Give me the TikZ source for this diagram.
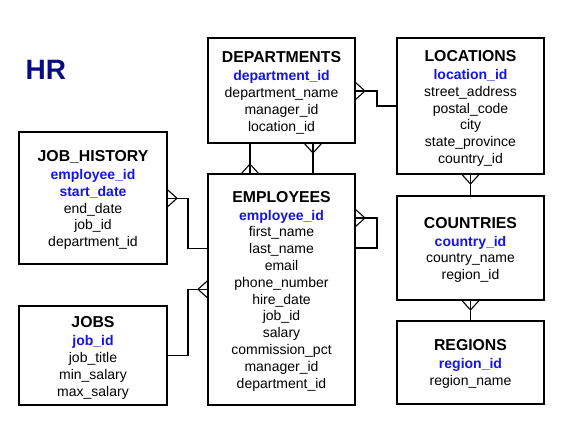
\documentclass[tikz,border=0pt]{standalone}
\usepackage{fontspec}
\setmainfont{Liberation Sans}
\definecolor{pkblue}{RGB}{20,20,235}
\definecolor{hrblue}{RGB}{10,10,130}
\tikzset{
  box/.style={draw, line width=1.2pt, inner sep=0pt, outer sep=0pt, anchor=north west},
  ttl/.style={anchor=base, inner sep=0pt, font=\fontsize{15.8}{18}\selectfont\bfseries},
  att/.style={anchor=base, inner sep=0pt, font=\fontsize{14}{16}\selectfont},
  pk/.style={anchor=base, inner sep=0pt, text=pkblue, font=\fontsize{14}{16}\selectfont\bfseries},
  conn/.style={line width=1.1pt},
  crow/.pic={\draw[line width=1.1pt] (0pt,9pt) -- (10pt,0pt) -- (0pt,-9pt);}
}
% #1 name, #2 cx, #3 title centre y, #4 title, #5 pk list, #6 number of pks, #7 attribute list
\newcommand\entText[7]{%
  \node[ttl] (#1-t) at ({#2},{#3+5.6}) {#4};
  \foreach \a [count=\i] in {#5} {\node[pk] (#1-k\i) at ({#2},{#3+18.5+16.8*(\i-1)+4.9}) {\a};}
  \foreach \a [count=\i] in {#7} {\node[att] (#1-a\i) at ({#2},{#3+18.5+16.8*(\i+#6-1)+4.9}) {\a};}
}
\begin{document}
\begin{tikzpicture}[x=1pt,y=-1pt]
\useasboundingbox[fill=white] (0,0) rectangle (566,423);
\node[anchor=base west, inner sep=0pt, text=hrblue, font=\fontsize{28}{30}\selectfont\bfseries] (hr) at (25.5,79) {HR};
% boxes
\node[box, minimum width=147pt, minimum height=105pt] (dep) at (208,38) {};
\node[box, minimum width=147pt, minimum height=231pt] (emp) at (208,174) {};
\node[box, minimum width=148pt, minimum height=132pt] (jh) at (19,132) {};
\node[box, minimum width=148pt, minimum height=99pt] (jobs) at (19,306) {};
\node[box, minimum width=147pt, minimum height=136pt] (loc) at (397,38) {};
\node[box, minimum width=147pt, minimum height=104pt] (cou) at (397,196) {};
\node[box, minimum width=147pt, minimum height=83pt] (reg) at (397,321) {};
% texts
\entText{d}{281.5}{57.3}{DEPARTMENTS}{department\_id}{1}{department\_name,manager\_id,location\_id}
\entText{e}{281.5}{196.7}{EMPLOYEES}{employee\_id}{1}{first\_name,last\_name,email,phone\_number,hire\_date,job\_id,salary,commission\_pct,manager\_id,department\_id}
\entText{h}{93}{156}{JOB\_HISTORY}{employee\_id,start\_date}{2}{end\_date,job\_id,department\_id}
\entText{j}{93}{322.3}{JOBS}{job\_id}{1}{job\_title,min\_salary,max\_salary}
\entText{l}{470.5}{56}{LOCATIONS}{location\_id}{1}{street\_address,postal\_code,city,state\_province,country\_id}
\entText{c}{470.5}{222.7}{COUNTRIES}{country\_id}{1}{country\_name,region\_id}
\entText{r}{470.5}{345}{REGIONS}{region\_id}{1}{region\_name}
% connectors
\draw[conn] (dep.east |- 0,91) -- (377,91) |- (loc.west |- 0,106);
\pic at (dep.east |- 0,91) {crow};
\draw[conn] (dep.south -| 313,0) -- (emp.north -| 313,0);
\pic[rotate=-90] at (dep.south -| 313,0) {crow};
\draw[conn] (dep.south -| 250,0) -- (emp.north -| 250,0);
\pic[rotate=90] at (emp.north -| 250,0) {crow};
\draw[conn] (emp.east |- 0,218) -- (377,218) |- (emp.east |- 0,248);
\pic at (emp.east |- 0,218) {crow};
\draw[conn] (jh.east |- 0,198.3) -- (188,198.3) |- (emp.west |- 0,248.3);
\pic at (jh.east |- 0,198.3) {crow};
\draw[conn] (jobs.east |- 0,355.7) -- (188,355.7) |- (emp.west |- 0,289.3);
\pic[rotate=180] at (emp.west |- 0,289.3) {crow};
\draw[conn] (loc.south) -- (cou.north);
\pic[rotate=-90] at (loc.south) {crow};
\draw[conn] (cou.south) -- (reg.north);
\pic[rotate=-90] at (cou.south) {crow};
\end{tikzpicture}
\end{document}
